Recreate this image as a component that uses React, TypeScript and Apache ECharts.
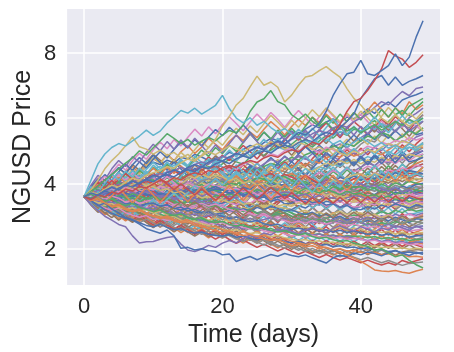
import { useEffect, useRef } from "react";
import * as echarts from "echarts";

// x: simulation day index, 0..49
const days: number[] = Array.from({ length: 50 }, (_, i) => i);
const xTicks = [0, 20, 40];
const yTicks = [2, 4, 6, 8];
const xTitle = "Time (days)";
const yTitle = "NGUSD Price";

// All simulated prices below are written in hundredths of a dollar (360 = 3.60)
const PRICE_UNIT = 100;

// Bulk of the simulated paths, set A
const fillerPathsA: number[][] = [
  [360,380,372,395,410,402,421,438,430,452,465,458,471,463,480,474,489,481,470,478,480,495,487,504,516,509,525,538,531,547,560,548,566,579,570,588,597,585,603,598,610,628,614,636,649,633,655,664,671,680],
  [360,348,357,343,361,374,366,352,369,375,380,394,407,398,416,429,421,440,452,445,460,474,466,459,481,493,486,502,515,508,520,537,524,511,530,546,539,558,547,566,560,578,592,571,589,610,623,607,631,650],
  [360,375,389,380,398,407,395,412,426,417,420,409,423,414,398,406,391,402,415,408,400,413,427,419,436,448,440,455,449,463,470,482,474,491,503,496,512,521,509,528,540,553,566,549,572,588,575,601,614,630],
  [360,366,353,368,381,374,359,371,385,379,390,403,396,411,422,414,429,418,433,447,440,452,439,426,441,433,418,427,442,436,430,448,461,455,472,486,478,495,507,499,520,534,527,548,541,563,578,570,592,610],
  [360,377,392,385,403,417,409,428,440,432,445,452,441,456,463,451,468,460,474,465,470,482,470,489,477,496,508,494,512,503,500,518,531,522,540,529,547,559,550,571,560,574,566,583,571,560,579,594,583,590],
  [360,352,365,349,340,355,346,361,353,344,350,363,372,365,381,376,390,384,398,405,410,424,417,433,446,439,452,461,455,470,480,471,488,496,485,502,515,507,521,514,530,545,537,556,548,531,543,560,552,570],
  [360,378,370,386,399,391,406,419,412,425,430,421,436,444,432,448,441,456,447,460,450,438,452,464,457,445,460,473,466,481,470,486,477,462,475,490,483,469,478,494,480,497,509,501,520,513,531,524,542,550],
  [360,371,364,350,362,377,369,384,378,366,370,383,396,389,405,398,414,408,422,436,430,447,441,458,470,463,479,491,484,500,510,497,518,506,493,511,503,490,508,496,500,514,507,526,519,532,525,540,533,540],
  [360,347,356,341,333,348,339,326,337,345,340,353,346,361,368,357,372,365,378,371,380,393,386,399,391,407,400,414,408,426,420,434,427,442,451,443,459,452,468,461,470,482,475,491,498,487,503,511,505,520],
  [360,374,367,382,393,386,401,394,408,399,410,402,388,396,381,389,375,384,397,383,390,404,398,413,421,412,428,437,429,444,450,463,455,471,462,478,487,480,494,484,490,505,496,488,503,518,509,522,514,510],
  [360,368,359,373,365,380,372,387,376,385,380,394,386,402,411,403,419,409,425,414,420,408,417,402,393,409,398,386,397,411,400,414,405,421,433,425,440,431,446,438,450,462,455,471,464,480,472,489,494,500],
  [360,353,367,358,371,363,350,358,372,366,360,348,356,344,335,349,341,330,337,346,340,353,362,374,368,385,393,386,402,413,420,410,426,417,433,424,439,430,446,437,440,453,446,462,470,461,477,469,484,490],
  [360,355,369,377,368,384,375,391,383,397,390,401,393,409,398,414,404,418,407,421,410,423,416,431,424,438,429,446,437,451,440,457,448,436,450,464,455,470,461,474,460,472,465,481,470,486,477,490,484,480],
  [360,349,341,354,346,332,344,338,329,345,340,352,344,361,355,368,359,374,366,379,370,384,377,393,386,402,410,401,418,424,430,419,425,412,404,417,409,396,408,414,400,415,409,425,432,440,433,449,461,470],
  [360,371,380,372,387,395,386,401,394,407,400,389,398,383,391,377,386,373,388,379,380,371,386,377,364,372,360,369,356,365,360,374,368,383,391,384,399,408,400,415,420,411,427,419,434,441,433,448,452,460],
  [360,364,352,366,373,361,375,368,380,374,370,379,365,372,357,369,352,364,371,358,360,372,366,378,364,380,371,387,376,391,380,394,387,402,395,411,404,419,412,426,430,418,433,427,441,436,448,440,456,450],
  [360,351,362,348,357,341,353,345,359,343,350,364,358,373,369,381,376,388,383,396,400,391,408,400,415,405,421,412,402,418,410,398,406,393,385,396,383,372,388,379,380,394,387,402,409,401,416,423,431,440],
  [360,352,343,356,339,331,345,336,324,337,330,341,334,348,339,355,346,359,351,362,350,362,355,371,364,378,372,385,379,394,390,401,394,408,398,413,404,419,411,423,410,422,414,429,418,433,426,440,435,430],
  [360,379,372,388,381,397,405,396,413,408,420,431,423,438,429,446,437,452,443,455,440,451,436,444,429,437,422,431,417,428,420,409,423,412,398,410,396,405,389,402,400,414,403,419,410,425,416,431,427,420],
  [360,348,356,343,351,338,346,361,352,367,360,349,354,341,333,345,327,336,322,331,320,332,326,340,333,347,339,352,344,356,350,363,357,371,364,378,370,385,377,392,390,402,396,409,401,414,406,419,411,415],
  [360,372,366,358,371,379,368,383,374,389,380,393,387,376,391,398,386,402,394,407,400,388,396,382,373,385,374,362,377,368,370,384,379,393,386,401,410,403,418,426,430,419,432,423,411,425,417,404,416,410],
  [360,366,354,347,359,351,363,355,341,357,350,362,355,368,375,366,379,372,383,377,370,381,374,389,382,396,388,401,393,398,390,380,387,372,378,364,371,356,368,361,360,373,366,380,387,379,392,385,398,400],
  [360,376,383,375,390,402,394,409,398,414,410,403,417,408,394,402,389,397,384,395,390,402,396,411,404,419,412,405,418,421,410,398,406,391,400,387,395,381,389,376,380,392,386,399,388,402,394,407,401,395],
  [360,350,357,344,336,349,331,340,325,334,330,342,336,349,341,355,348,361,346,357,350,339,348,334,341,327,338,331,345,349,340,352,346,358,349,363,354,367,359,370,360,371,364,377,369,382,375,386,380,390],
  [360,369,362,375,381,370,384,377,390,382,370,379,388,381,396,403,394,408,415,407,410,402,416,406,393,401,388,396,383,394,390,378,386,373,381,368,377,364,372,379,370,384,376,389,381,395,387,380,391,385],
  [360,373,365,380,371,386,378,391,384,376,380,367,372,358,364,351,357,344,352,339,340,348,335,341,328,336,322,331,317,326,320,332,325,339,334,346,341,355,348,357,350,362,356,368,361,374,367,379,373,380],
  [360,354,346,358,350,343,357,349,362,355,350,361,368,359,373,366,380,372,386,377,380,369,375,362,370,357,366,352,361,368,360,372,365,379,384,376,390,382,396,387,390,379,386,372,380,367,376,369,381,375],
  [360,368,377,370,384,392,383,397,388,395,390,379,386,372,381,367,375,361,370,365,360,371,364,378,370,383,376,389,381,386,380,392,385,398,391,404,396,409,402,395,400,389,395,383,377,388,374,381,367,370],
  [360,351,358,345,352,339,347,335,344,333,340,331,339,326,334,322,330,337,325,338,330,341,335,347,340,352,344,357,349,355,350,342,349,336,343,331,339,346,334,345,340,352,346,357,349,362,355,368,359,365],
  [360,374,368,383,377,391,384,398,405,393,400,411,405,418,409,424,416,428,419,426,420,409,415,401,408,395,402,389,396,383,390,378,385,371,377,364,370,357,362,349,350,362,356,369,361,355,367,359,354,360],
  [360,364,357,369,361,352,365,358,371,364,360,368,362,374,367,379,372,385,376,383,380,369,374,361,366,353,359,346,352,338,340,351,343,336,347,332,340,328,337,325,330,341,335,347,340,352,344,357,350,355],
  [360,352,344,351,339,333,341,329,336,326,320,330,326,339,334,346,341,353,347,364,360,368,362,375,369,381,374,387,378,385,380,373,386,379,371,382,375,366,377,368,370,361,366,355,362,350,357,345,353,350],
  [360,356,368,361,374,367,359,372,364,375,370,362,369,355,363,349,356,343,351,357,350,361,356,367,359,372,364,377,369,374,370,362,368,355,364,351,358,345,356,363,360,352,359,346,351,339,347,336,342,345],
  [360,370,363,377,385,374,388,381,372,386,380,391,384,397,389,402,393,387,399,393,390,381,386,374,379,366,372,359,365,354,350,343,350,337,345,331,340,326,334,328,330,341,334,347,339,331,344,336,346,340],
  [360,348,355,342,350,336,345,332,341,336,340,327,334,321,328,316,323,311,318,314,310,320,315,327,321,333,326,338,331,336,330,341,335,347,340,352,345,357,349,343,350,338,344,331,339,327,336,330,341,335],
  [360,369,361,373,366,358,371,363,376,368,360,371,366,378,372,385,379,388,382,391,380,371,377,364,370,357,364,352,359,365,360,349,353,341,346,334,338,327,333,321,320,329,322,334,327,338,331,325,335,330],
  [360,353,361,347,355,342,350,358,344,356,350,341,347,334,340,327,335,342,329,336,330,321,327,315,322,310,317,305,313,318,310,302,309,297,305,293,301,308,296,304,300,309,303,314,307,318,311,322,315,320],
  [360,367,359,372,378,366,380,373,364,377,370,358,363,351,355,343,348,337,342,335,330,322,327,316,320,309,314,303,307,311,300,294,299,288,293,283,289,296,285,292,290,298,292,302,295,306,299,308,303,310],
  [360,352,345,354,342,335,344,331,338,326,330,336,328,335,322,330,318,325,332,326,320,312,317,305,310,299,304,293,298,294,290,297,292,301,295,305,298,307,300,296,300,308,302,297,305,294,300,307,298,300],
  [360,371,365,378,372,385,379,391,383,395,390,379,384,371,376,363,368,356,361,354,350,342,347,336,341,330,334,323,328,325,320,313,318,307,313,302,308,315,305,312,310,301,306,296,302,292,298,289,294,295],
  [360,349,356,343,338,347,334,341,329,337,340,330,335,323,328,316,321,312,317,306,310,318,313,323,316,327,320,330,324,316,320,311,305,312,300,306,294,300,289,295,280,288,282,293,286,297,289,281,292,290],
  [360,355,367,359,352,364,357,369,361,354,360,351,356,344,339,347,334,340,328,333,320,327,321,314,320,308,313,302,307,311,300,293,297,287,291,282,286,277,281,274,270,277,272,281,275,284,278,287,283,280],
  [360,350,342,349,337,331,338,326,332,322,320,313,318,307,312,302,307,297,302,306,300,293,298,288,294,285,290,296,287,293,290,283,288,279,285,275,281,287,278,284,280,273,278,269,275,266,271,264,268,270],
  [360,365,357,351,362,355,343,350,339,346,350,341,346,335,340,329,334,340,331,337,330,321,314,319,308,303,309,298,292,287,280,285,279,287,281,276,283,277,271,276,270,265,270,261,266,257,262,254,258,260],
  [360,348,340,347,334,328,335,322,317,323,310,316,304,309,298,303,293,297,288,295,290,284,289,279,283,274,279,270,275,268,270,264,268,259,264,256,261,266,258,263,260,253,258,250,254,246,251,244,248,250],
  [360,351,357,346,341,348,337,343,332,338,340,331,335,324,319,325,314,309,314,304,300,294,298,288,283,287,277,272,276,266,260,264,258,262,255,259,252,257,250,254,250,245,249,242,246,239,243,236,241,240],
  [360,347,339,328,334,321,315,321,309,305,300,306,299,303,293,296,287,292,283,287,280,274,278,269,265,269,259,263,254,258,250,246,250,243,247,239,243,236,241,238,240,234,238,231,235,228,232,226,229,230],
  [360,352,344,351,339,346,333,327,334,322,330,318,312,305,311,298,293,287,281,276,270,265,269,261,266,258,263,255,259,253,250,245,249,242,246,238,242,235,239,233,230,226,230,223,227,219,223,217,221,220],
  [360,346,337,325,318,325,311,303,297,302,290,294,287,291,282,286,278,283,275,281,280,272,276,266,261,265,255,251,255,246,240,244,238,242,235,239,232,236,229,233,230,224,227,220,223,216,219,213,215,210],
  [360,349,341,333,339,327,321,326,315,320,310,301,295,299,288,283,286,277,272,266,260,256,259,251,247,250,242,238,241,234,230,226,229,222,225,218,221,215,217,212,210,207,210,204,206,201,204,199,202,200],
  [360,346,335,320,309,301,294,289,280,272,268,275,266,259,262,253,249,252,245,241,240,244,236,240,232,228,233,225,229,222,220,224,216,219,211,214,207,210,204,206,200,204,196,199,192,195,188,191,186,190],
  [360,347,352,338,329,333,320,314,318,306,300,293,297,285,280,283,272,268,262,257,250,254,246,241,244,235,231,226,229,220,210,214,207,210,202,205,198,201,194,196,190,186,189,183,185,179,182,176,178,175],
];

// Bulk of the simulated paths, set B (more jagged ones)
const fillerPathsB: number[][] = [
  [360,385,372,398,421,409,437,452,431,458,476,463,489,470,497,515,492,511,538,520,503,529,548,531,557,540,566,589,571,548,574,596,577,603,586,612,591,565,590,617,598,624,649,627,602,631,613,650,626,640],
  [360,338,361,377,352,368,391,374,403,386,412,437,419,446,428,451,473,455,482,461,487,470,494,516,498,475,501,526,507,531,554,532,557,536,563,585,562,540,567,589,571,548,573,596,579,604,586,562,589,610],
  [360,389,411,394,425,447,429,458,440,466,489,471,448,473,452,431,457,438,462,485,467,444,470,493,476,502,481,507,528,509,486,512,538,517,543,522,548,571,552,529,556,578,557,583,562,589,567,544,571,590],
  [360,344,369,351,335,358,382,365,347,372,390,373,398,416,393,419,401,384,408,431,414,439,421,446,468,449,426,452,473,455,480,503,482,461,487,509,488,514,535,513,538,519,545,523,549,527,552,531,556,570],
  [360,341,322,345,327,309,331,316,338,355,334,357,379,362,386,368,391,413,395,420,402,427,445,428,452,433,458,479,460,484,466,490,512,493,517,498,521,503,527,548,529,553,534,557,538,561,542,566,549,555],
  [360,378,397,380,405,387,366,389,410,392,417,398,420,441,423,400,424,445,426,451,432,410,434,457,438,462,443,419,444,466,447,471,452,476,497,478,455,480,503,484,508,488,512,493,470,495,518,497,521,540],
  [360,382,364,343,367,385,368,392,374,355,379,401,383,407,425,406,384,409,431,412,437,418,396,420,442,424,449,430,408,433,457,438,462,443,420,445,468,449,473,454,478,459,483,464,442,466,489,470,504,525],
  [360,347,371,354,378,396,377,359,382,404,386,365,388,411,393,417,399,378,402,425,407,430,411,389,413,436,418,441,422,400,424,447,428,452,433,457,438,462,443,467,448,471,452,476,457,481,462,486,497,510],
  [360,391,414,397,426,449,430,457,479,461,486,464,441,466,444,422,447,425,403,428,406,431,409,433,455,437,414,439,461,443,467,445,422,447,469,451,475,456,480,461,484,465,488,470,493,474,497,478,489,500],
  [360,351,333,354,337,319,341,326,348,365,347,370,352,374,393,375,397,379,402,384,406,388,411,392,372,395,417,399,421,403,426,407,388,412,433,415,437,419,442,423,446,428,450,431,454,436,459,441,468,490],
  [360,374,352,371,390,369,348,367,385,364,386,405,385,407,388,367,389,409,390,412,393,414,396,375,397,419,400,423,404,386,408,430,411,433,414,437,418,399,421,443,424,447,428,452,433,455,436,460,470,480],
  [360,336,357,339,318,341,323,345,363,344,366,348,370,389,371,393,375,354,376,397,379,401,382,361,384,406,388,410,391,372,395,417,398,421,402,383,406,428,409,431,412,435,416,439,420,443,424,448,459,470],
  [360,381,400,382,405,427,408,431,412,393,416,438,419,398,421,443,424,402,425,447,428,409,431,412,391,413,435,416,396,418,441,422,401,423,445,426,405,428,450,431,411,433,455,436,415,437,459,440,451,460],
  [360,343,363,381,362,342,364,345,326,347,368,350,331,352,373,355,336,358,379,361,382,364,385,406,387,368,390,411,393,374,396,417,398,379,401,422,403,384,406,427,408,430,411,392,414,435,416,438,431,450],
  [360,379,358,377,397,376,355,377,356,335,357,379,360,339,361,382,363,343,365,386,367,346,368,389,370,350,372,393,374,354,376,397,378,357,379,400,381,403,384,364,386,407,388,410,391,413,394,416,425,440],
  [360,342,324,345,327,309,330,312,334,355,337,318,340,361,343,324,346,367,349,330,352,373,355,336,358,379,361,342,364,385,367,348,370,391,373,354,376,397,379,360,382,403,385,366,388,409,391,413,424,430],
  [360,384,407,389,412,434,416,439,420,443,465,446,424,447,428,451,431,409,432,455,435,414,437,417,440,462,442,420,443,423,401,424,446,426,405,428,450,430,409,432,412,435,414,437,416,439,418,441,430,420],
  [360,345,366,349,331,352,335,357,339,321,343,364,346,328,350,371,353,335,357,378,360,342,364,385,367,349,371,392,374,356,378,360,382,403,385,367,389,371,393,375,397,379,361,383,365,387,369,391,402,410],
  [360,377,359,378,396,377,358,379,400,381,362,384,405,386,367,389,410,391,372,394,415,396,377,399,420,401,382,404,425,406,387,409,390,371,393,414,395,376,398,379,401,382,404,385,366,388,369,391,396,400],
  [360,337,318,337,320,302,321,305,287,306,290,309,327,310,328,311,330,349,332,351,334,353,336,355,374,357,376,359,378,361,380,363,382,365,384,367,386,369,388,371,390,373,392,375,394,377,396,379,388,395],
  [360,372,353,371,389,370,351,370,388,369,387,368,349,368,386,367,385,366,347,366,384,365,383,364,382,363,344,363,381,362,380,361,379,398,379,360,378,397,378,359,377,396,377,395,376,394,375,393,385,390],
  [360,381,365,342,361,377,398,379,357,374,395,414,396,373,390,369,347,366,385,364,342,361,339,358,377,356,334,353,372,350,369,388,367,346,365,384,363,342,361,380,359,378,357,376,355,374,353,372,377,380],
  [360,346,328,347,365,347,329,348,366,384,366,348,367,349,331,350,369,351,333,352,371,353,335,317,336,355,337,319,338,357,339,358,377,359,341,360,379,361,343,362,381,363,345,364,383,365,347,366,371,375],
  [360,380,401,422,404,427,409,432,414,436,418,400,421,403,385,406,388,370,391,373,355,376,358,340,361,382,364,346,367,349,370,352,373,394,376,358,379,361,382,364,346,367,349,370,352,373,355,376,360,365],
  [360,349,369,351,333,354,336,318,339,321,342,324,345,366,348,330,351,372,354,336,357,339,321,342,363,345,327,348,369,351,333,354,375,357,339,360,342,363,345,366,348,330,351,333,354,336,357,339,350,355],
  [360,377,396,378,399,420,401,423,404,426,447,428,450,431,453,434,415,437,418,440,421,402,424,405,386,408,389,370,392,373,395,376,357,379,360,382,363,344,366,347,369,350,331,353,334,356,337,359,343,350],
  [360,343,360,342,324,341,358,340,322,339,321,338,355,337,319,336,318,335,352,334,316,333,350,332,314,331,348,330,347,364,346,328,345,327,309,326,343,325,342,324,341,323,340,322,339,321,338,320,332,340],
  [360,378,359,340,358,376,357,338,356,337,318,336,354,335,316,334,315,333,351,332,313,331,349,330,311,329,347,328,309,327,345,326,307,325,343,324,305,323,341,322,303,321,339,320,301,319,337,318,324,330],
  [360,342,324,306,323,305,287,304,286,303,320,302,284,301,283,300,317,299,316,298,280,297,279,296,313,295,312,294,311,328,310,292,309,326,308,325,307,324,306,323,340,322,304,321,303,320,337,319,331,325],
  [360,373,354,370,386,367,348,364,345,361,342,358,374,355,336,352,333,349,330,346,327,343,359,340,321,337,318,334,315,331,312,328,344,325,341,322,338,319,335,316,332,313,329,310,326,307,323,304,310,315],
  [360,346,363,345,327,344,326,308,325,307,324,306,288,305,322,304,321,303,285,302,319,301,283,300,317,299,281,298,315,297,279,296,313,295,277,294,311,293,275,292,309,291,273,290,307,289,271,288,297,305],
  [360,382,405,386,409,390,371,393,374,355,377,358,339,361,342,323,345,326,307,329,310,332,313,294,316,297,319,300,281,303,284,306,287,268,290,271,293,274,296,277,299,280,302,283,305,286,308,289,295,300],
  [360,344,328,345,329,313,330,314,331,348,332,316,333,317,301,318,302,319,336,320,304,321,305,289,306,290,307,291,308,292,276,293,277,294,278,295,279,296,280,297,281,298,282,299,283,267,284,268,279,290],
  [360,371,353,335,352,334,316,333,315,297,314,331,313,295,312,329,311,293,310,292,309,291,273,290,307,289,271,288,305,287,269,286,268,285,302,284,266,283,265,282,299,281,263,280,262,279,296,278,272,280],
  [360,342,358,340,322,338,320,302,318,300,316,298,280,296,312,294,276,292,274,290,306,288,270,286,268,284,300,282,264,280,262,278,294,276,258,274,290,272,254,270,286,268,250,266,282,264,246,262,268,270],
  [360,347,332,348,333,318,302,317,301,286,301,286,271,286,301,285,270,285,269,284,299,283,268,283,267,282,266,281,265,250,265,280,264,249,264,248,263,278,262,247,262,246,261,276,260,245,260,244,252,260],
  [360,370,352,334,350,332,314,330,312,294,310,292,308,290,272,288,270,286,302,284,266,282,264,280,262,278,260,276,258,274,256,272,254,270,252,268,250,266,248,264,246,262,244,260,242,258,240,256,244,250],
  [360,343,326,309,324,307,290,305,288,303,286,301,284,299,282,265,280,263,278,261,276,259,274,257,272,255,270,285,268,251,266,249,264,247,262,245,260,243,258,241,256,239,254,237,252,235,250,233,240,245],
  [360,349,334,319,333,318,303,317,302,287,301,286,300,285,270,284,269,283,268,253,267,252,266,251,265,250,264,249,263,248,233,247,232,246,231,245,230,244,229,243,228,242,227,241,226,240,225,239,230,235],
  [360,344,330,344,330,316,301,315,301,287,300,286,273,286,272,259,272,258,271,257,244,257,243,256,242,229,242,228,241,227,240,226,239,225,238,224,237,223,236,222,235,221,234,220,233,219,232,218,220,225],
  [360,340,322,304,318,302,286,300,284,298,282,267,280,265,250,263,249,262,247,260,245,258,244,257,242,255,241,254,239,252,238,251,236,249,235,248,233,246,232,245,230,243,228,241,227,240,225,238,220,215],
  [360,348,333,319,332,318,303,289,302,288,274,287,273,260,272,259,246,258,245,257,244,256,243,231,243,230,242,229,241,228,216,228,215,227,214,226,213,225,212,224,211,223,210,222,209,221,208,220,212,205],
  [360,341,326,311,296,310,295,281,295,281,267,280,266,253,266,252,239,252,238,251,237,250,236,224,236,223,235,222,234,221,209,221,208,220,207,219,206,218,205,217,204,216,203,215,202,214,201,213,200,195],
  [360,345,331,318,305,317,304,292,280,291,279,268,279,267,256,266,255,245,255,244,234,244,233,223,233,222,212,222,212,202,212,202,193,202,192,201,191,200,190,199,189,198,188,197,187,196,186,195,190,185],
  [360,338,318,336,317,299,316,334,315,333,351,332,352,371,351,372,393,373,394,415,395,416,437,417,438,418,439,460,440,461,441,462,483,463,484,464,485,506,486,507,487,508,488,509,489,510,490,511,500,520],
  [360,384,361,338,362,386,363,340,364,388,365,342,366,390,367,344,368,392,369,346,370,394,371,348,372,396,373,350,374,398,375,399,423,400,377,401,425,402,379,403,427,404,428,405,429,406,430,407,430,450],
  [360,375,393,411,394,412,430,413,396,414,432,415,398,381,399,382,365,383,366,349,367,350,368,386,369,352,370,388,371,354,372,355,338,356,339,357,340,358,341,359,342,360,343,361,344,362,345,363,356,350],
  [360,352,337,323,338,324,310,325,311,297,312,327,313,328,343,329,344,330,316,331,317,303,318,304,319,334,320,306,321,307,293,308,294,309,295,310,296,311,297,312,298,313,299,285,300,286,301,287,295,300],
  [360,376,360,344,328,343,327,311,326,310,294,309,324,308,292,307,291,306,321,305,289,304,288,303,287,302,317,301,285,300,284,299,283,298,282,297,281,296,280,295,279,294,278,293,277,292,276,291,283,280],
  [360,390,372,401,429,410,438,419,447,428,456,437,465,446,474,455,483,464,443,471,450,429,457,436,415,443,422,401,429,408,387,415,394,373,401,380,408,387,415,394,422,401,429,408,436,415,443,422,430,420],
];

// Bulk of the simulated paths, set C (the wider parts of the fan)
const fillerPathsC: number[][] = [
  [360,392,418,401,433,459,441,470,492,474,503,527,506,534,515,541,566,545,573,552,580,604,583,561,588,612,590,617,596,572,599,623,601,578,604,629,606,583,609,586,612,589,565,591,568,594,571,597,575,560],
  [360,338,317,333,312,293,309,290,306,287,270,286,268,252,267,250,265,249,234,248,233,247,232,218,231,217,230,216,203,216,204,217,204,192,204,192,181,192,181,193,206,194,206,219,207,220,208,221,225,230],
  [360,372,397,383,410,434,418,445,428,454,479,461,487,468,495,476,503,528,509,536,517,544,569,549,576,556,583,608,588,566,593,572,599,625,604,631,610,588,615,594,621,600,578,605,632,611,588,615,597,620],
  [360,342,356,336,318,333,314,297,312,295,279,293,276,261,274,259,245,257,243,230,242,229,217,228,216,205,215,204,194,203,193,184,193,183,174,183,174,166,174,166,158,166,158,151,158,151,165,158,164,170],
  [360,383,405,427,409,436,459,440,466,447,474,497,478,504,527,508,534,515,542,565,546,572,553,579,556,531,557,536,511,537,515,490,516,494,470,496,474,500,478,454,480,457,483,460,486,463,489,466,472,480],
  [360,334,312,328,307,288,303,284,299,281,265,280,295,278,293,276,291,274,258,272,256,241,255,240,226,239,225,212,224,211,199,210,198,187,197,186,196,185,195,184,194,183,193,182,192,181,191,195,198,200],
  [360,349,372,395,381,406,430,414,440,423,449,433,459,442,469,451,478,502,483,510,491,517,498,525,551,530,557,536,563,541,569,547,575,602,579,607,584,612,589,617,594,622,598,626,603,631,607,636,648,660],
  [360,347,329,343,326,310,323,307,292,304,289,301,286,272,284,270,257,268,255,243,253,241,230,240,229,218,228,217,207,216,206,196,205,195,186,194,185,176,184,175,167,174,166,158,165,157,150,156,158,160],
  [360,395,425,410,445,470,452,482,465,495,520,500,528,505,533,510,538,515,492,518,495,522,548,524,552,528,504,531,557,533,560,536,563,539,566,542,569,545,572,548,575,551,578,554,582,557,585,560,575,590],
  [360,377,358,381,403,385,409,390,414,437,418,442,465,445,470,449,426,451,475,454,479,502,481,506,484,510,535,512,538,515,541,566,543,569,545,571,597,573,548,575,551,577,603,579,555,582,607,583,592,600],
];

// Paths that stand out at the edges of the fan
const pathBlueTop = [360,371,364,379,388,380,396,407,399,414,425,418,433,441,434,449,458,450,466,474,468,481,492,485,499,511,503,518,530,522,537,556,548,565,585,620,669,705,735,740,776,735,730,745,760,796,760,786,847,897];
const pathBlueHigh = [360,352,366,377,370,386,395,389,403,412,405,419,427,420,434,442,436,451,446,460,468,461,476,484,477,492,500,493,508,517,510,525,534,528,545,556,550,571,590,612,660,690,720,730,700,725,700,712,720,730];
const pathRedHigh = [360,351,366,359,374,368,383,377,391,386,399,410,404,418,411,425,433,427,440,434,448,455,449,462,470,464,478,486,480,494,503,497,512,526,519,540,553,581,620,650,660,685,715,750,806,790,780,755,770,793];
const pathOlivePeak = [360,373,367,382,395,389,404,416,410,425,433,440,452,446,463,475,468,486,510,535,575,605,640,660,695,728,700,710,694,649,670,700,725,730,745,757,740,725,690,660,640,615,630,600,585,610,590,575,590,560];
const pathOliveEarly = [360,380,410,445,470,490,515,542,512,505,490,502,486,495,478,489,472,484,497,488,501,515,507,496,510,521,513,528,519,505,514,526,518,503,512,497,508,493,485,499,490,504,496,511,522,514,530,523,509,516];
const pathCyanEarly = [360,410,460,490,510,522,515,530,545,563,547,560,585,603,623,615,630,612,625,639,669,629,600,585,601,578,590,571,556,568,551,540,555,536,522,538,520,531,512,526,540,528,513,525,508,517,503,521,510,525];
const pathGreenPeak = [360,376,392,410,428,445,462,478,500,487,509,530,552,538,522,535,517,529,541,530,548,562,555,578,620,649,659,684,650,640,610,595,612,590,575,588,566,579,560,572,555,567,580,563,575,590,578,596,585,600];
const pathPurpleHigh = [360,368,380,373,389,398,391,406,414,408,422,431,425,440,449,443,458,466,459,474,483,477,492,486,501,510,503,518,527,520,535,544,537,552,561,555,570,578,572,589,600,612,633,650,640,662,681,668,690,695];
const pathPurpleLow = [360,335,318,300,288,275,268,240,218,222,223,230,235,238,215,197,192,200,211,205,218,226,219,232,241,235,249,243,256,262,254,247,258,265,257,250,263,271,262,255,268,260,252,264,258,271,265,257,270,262];
const pathBlueLow = [360,348,332,340,322,310,296,288,276,262,255,248,258,240,202,205,197,201,195,193,182,185,162,170,177,167,175,183,178,186,180,176,182,173,165,157,173,181,176,188,182,191,186,179,188,195,187,180,189,184];
const pathOrangeLow = [360,348,356,341,330,337,324,317,322,309,302,296,301,290,284,289,278,272,266,270,259,254,249,253,244,239,242,233,228,231,224,219,214,218,209,204,198,190,181,172,162,150,136,133,131,134,129,126,133,138];
const pathGreenLow = [360,367,355,346,352,340,333,339,327,321,314,319,308,302,307,296,291,296,285,280,284,275,270,274,265,261,266,257,252,256,248,243,247,238,233,236,228,223,226,218,213,208,196,201,188,176,182,165,152,142];

const highlightPaths = [
  pathOliveEarly, pathGreenPeak, pathCyanEarly, pathPurpleHigh, pathOlivePeak,
  pathPurpleLow, pathBlueLow, pathGreenLow, pathOrangeLow,
  pathBlueHigh, pathRedHigh, pathBlueTop,
];
// seaborn "deep" palette index for each highlighted path
const highlightColorIdx = [8, 2, 9, 4, 8, 4, 0, 2, 1, 0, 3, 0];

const PALETTE = ["#4C72B0", "#DD8452", "#55A868", "#C44E52", "#8172B3", "#937860", "#DA8BC3", "#8C8C8C", "#CCB974", "#64B5CD"];
const FONT = "'Liberation Sans', Arial, Helvetica, sans-serif";
const TEXT = "#262626";

export default function App() {
  const ref = useRef<HTMLDivElement>(null);

  useEffect(() => {
    const chart = echarts.init(ref.current!, null, { renderer: "svg" });

    // interleave the filler sets so colours and drawing order mix
    const fillers: number[][] = [];
    const n = Math.max(fillerPathsA.length, fillerPathsB.length);
    for (let i = 0; i < n; i++) {
      if (i < fillerPathsA.length) fillers.push(fillerPathsA[i]);
      if (i < fillerPathsB.length) fillers.push(fillerPathsB[i]);
      if (i % 5 === 2 && fillerPathsC[Math.floor(i / 5) * 2]) fillers.push(fillerPathsC[Math.floor(i / 5) * 2]);
      if (i % 5 === 4 && fillerPathsC[Math.floor(i / 5) * 2 + 1]) fillers.push(fillerPathsC[Math.floor(i / 5) * 2 + 1]);
    }

    const all = [
      ...fillers.map((path, i) => ({ path, color: PALETTE[i % PALETTE.length] })),
      ...highlightPaths.map((path, i) => ({ path, color: PALETTE[highlightColorIdx[i]] })),
    ];

    const pathSeries = all.map(({ path, color }) => ({
      type: "line",
      data: path.map((c, i) => [days[i], c / PRICE_UNIT]),
      showSymbol: false,
      symbol: "none",
      silent: true,
      z: 3,
      lineStyle: { width: 1.5, color },
      itemStyle: { color },
      emphasis: { disabled: true },
    }));

    const gridSeries = {
      type: "line",
      data: [],
      silent: true,
      z: 1,
      markLine: {
        z: 1,
        silent: true,
        symbol: ["none", "none"],
        label: { show: false },
        lineStyle: { color: "#ffffff", width: 1.5, type: "solid" },
        emphasis: { disabled: true },
        data: [
          ...xTicks.map((v) => ({ xAxis: v })),
          ...yTicks.map((v) => ({ yAxis: v })),
        ],
      },
    };

    chart.setOption({
      animation: false,
      grid: {
        left: 67,
        right: 14,
        top: 9,
        bottom: 67,
        show: true,
        backgroundColor: "#EAEAF2",
        borderWidth: 0,
      },
      xAxis: {
        type: "value",
        min: -2.45,
        max: 51.45,
        axisLine: { show: false },
        axisTick: { show: false, customValues: xTicks },
        splitLine: { show: false },
        axisLabel: {
          customValues: xTicks,
          fontSize: 22,
          color: TEXT,
          fontFamily: FONT,
          margin: 9,
        },
        name: xTitle,
        nameLocation: "middle",
        nameGap: 31,
        nameTextStyle: { fontSize: 25, color: TEXT, fontFamily: FONT },
      },
      yAxis: {
        type: "value",
        min: 0.9,
        max: 9.33,
        axisLine: { show: false },
        axisTick: { show: false, customValues: yTicks },
        splitLine: { show: false },
        axisLabel: {
          customValues: yTicks,
          fontSize: 22,
          color: TEXT,
          fontFamily: FONT,
          margin: 11,
        },
        name: yTitle,
        nameLocation: "middle",
        nameGap: 30,
        nameRotate: 90,
        nameTextStyle: { fontSize: 25, color: TEXT, fontFamily: FONT },
      },
      series: [gridSeries, ...pathSeries],
    });

    return () => chart.dispose();
  }, []);

  return (
    <div
      ref={ref}
      style={{ position: "fixed", left: 0, top: 0, width: 454, height: 352 }}
    />
  );
}
